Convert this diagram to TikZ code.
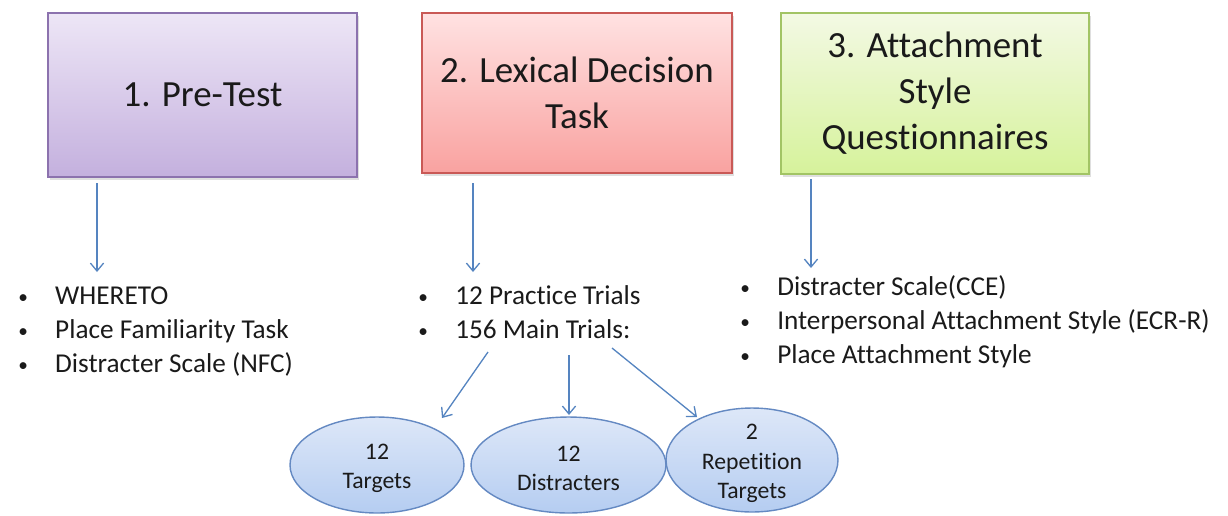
\documentclass[tikz,border=0pt]{standalone}
\usepackage{fontspec}
\setmainfont{Carlito}[Ligatures=NoCommon]
\usetikzlibrary{shapes.geometric,arrows.meta,shadows}
\definecolor{pTop}{HTML}{EDE6F6}
\definecolor{pBot}{HTML}{C4B0DE}
\definecolor{pLine}{HTML}{8C72AE}
\definecolor{rTop}{HTML}{FFE2E2}
\definecolor{rBot}{HTML}{F9A2A0}
\definecolor{rLine}{HTML}{C95956}
\definecolor{gTop}{HTML}{F3F9E4}
\definecolor{gBot}{HTML}{D6F29B}
\definecolor{gLine}{HTML}{A2C465}
\definecolor{eTop}{HTML}{DDE7F8}
\definecolor{eBot}{HTML}{B5CDF1}
\definecolor{eLine}{HTML}{6489C2}
\definecolor{arrowblue}{HTML}{5584C0}
\definecolor{txt}{HTML}{1A1A1A}
\newcommand{\smallbul}{\raisebox{0.5pt}{\fontsize{11}{11}\selectfont\textbullet}}
\begin{document}
\begin{tikzpicture}[x=0.02cm,y=-0.02cm,
  titlebox/.style={draw, line width=0.85pt, inner sep=0pt, align=center,
    font=\fontsize{21}{26.2}\selectfont, text=txt,
    drop shadow={opacity=0.25, shadow xshift=1pt, shadow yshift=-1.5pt}},
  listtext/.style={inner sep=0pt, anchor=base west, text=txt,
    font=\fontsize{15.5}{19.35}\selectfont},
  oval/.style={ellipse, draw=eLine, line width=0.8pt, inner sep=0pt,
    top color=eTop, bottom color=eBot},
  ovaltext/.style={inner sep=0pt, align=center, text=txt, yshift=-2pt,
    font=\fontsize{13.5}{16.8}\selectfont},
  conn/.style={draw=arrowblue, line width=0.75pt,
    -{Straight Barb[length=4.5pt,width=7.5pt]}}
]
\useasboundingbox (0,0) rectangle (1228,515);

% Title boxes
\node[titlebox, draw=pLine, top color=pTop, bottom color=pBot,
  minimum width=6.18cm, minimum height=3.28cm] (b1) at (202.5,95) {1. Pre-Test};
\node[titlebox, draw=rLine, top color=rTop, bottom color=rBot,
  minimum width=6.2cm, minimum height=3.2cm] (b2) at (577,93) {2. Lexical Decision\\Task};
\node[titlebox, draw=gLine, top color=gTop, bottom color=gBot,
  minimum width=6.16cm, minimum height=3.22cm] (b3) at (935,93.5) {3. Attachment\\Style\\Questionnaires};

% Bullet lists
\node[listtext] (l1) at (18,304) {\begin{tabular}[t]{@{}p{21pt}@{}l@{}}
\smallbul & WHERETO\\
\smallbul & Place Familiarity Task\\
\smallbul & Distracter Scale (NFC)\end{tabular}};
\node[listtext] (l2) at (418,304) {\begin{tabular}[t]{@{}p{21pt}@{}l@{}}
\smallbul & 12 Practice Trials\\
\smallbul & 156 Main Trials:\end{tabular}};
\node[listtext] (l3) at (740,295) {\begin{tabular}[t]{@{}p{21pt}@{}l@{}}
\smallbul & Distracter Scale(CCE)\\
\smallbul & Interpersonal Attachment Style (ECR-R)\\
\smallbul & Place Attachment Style\end{tabular}};

% Ovals
\node[oval, minimum width=3.48cm, minimum height=1.92cm] (e1) at (377,465) {};
\node[oval, minimum width=3.9cm, minimum height=1.92cm] (e2) at (568.5,465) {};
\node[oval, minimum width=3.44cm, minimum height=2.08cm] (e3) at (752,460) {};
\node[ovaltext] (t1) at (e1.center) {12\\Targets};
\node[ovaltext] (t2) at (e2.center) {12\\Distracters};
\node[ovaltext] (t3) at (e3.center) {2\\Repetition\\Targets};

% Connector end points
\coordinate (a1s) at (97,183);  \coordinate (a1e) at (97,272);
\coordinate (a2s) at (473,183); \coordinate (a2e) at (473,272);
\coordinate (a3s) at (811,179); \coordinate (a3e) at (811,268);
\coordinate (a4s) at (488,352); \coordinate (a4e) at (442,418);
\coordinate (a5s) at (569,355); \coordinate (a5e) at (569,415);
\coordinate (a6s) at (612,348); \coordinate (a6e) at (697,417);

\draw[conn] (a1s) -- (a1e);
\draw[conn] (a2s) -- (a2e);
\draw[conn] (a3s) -- (a3e);
\draw[conn] (a4s) -- (a4e);
\draw[conn] (a5s) -- (a5e);
\draw[conn] (a6s) -- (a6e);
\end{tikzpicture}
\end{document}
